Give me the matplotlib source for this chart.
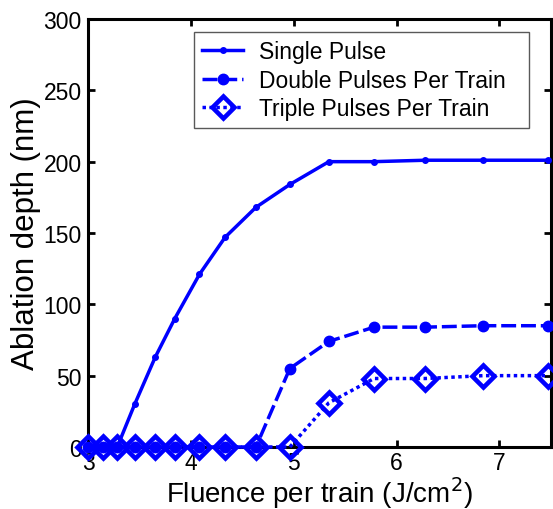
import matplotlib
matplotlib.use('Agg')
from matplotlib import pyplot as plt

# data
fluence = [3.0, 3.14, 3.28, 3.45, 3.65, 3.84, 4.08, 4.33, 4.63, 4.96,
           5.34, 5.78, 6.28, 6.84, 7.47]
single = [0, 0, 0, 30, 63, 90, 121, 147, 168, 184, 200, 200, 201, 201, 201]
double = [0, 0, 0, 0, 0, 0, 0, 0, 0, 55, 74, 84, 84, 85, 85]
triple = [0, 0, 0, 0, 0, 0, 0, 0, 0, 0, 31, 48, 48, 50, 50]

labels = ['Single Pulse', 'Double Pulses Per Train', 'Triple Pulses Per Train']
xticks = [3, 4, 5, 6, 7]
yticks = [0, 50, 100, 150, 200, 250, 300]

plt.rcParams['font.family'] = ['Liberation Sans', 'DejaVu Sans']
blue = (0, 0, 1)

fig = plt.figure(figsize=(5.53, 5.10), dpi=100)
ax = fig.add_axes([0.16, 0.1216, 0.836, 0.8392])

ax.plot(fluence, single, color=blue, lw=2.5, marker='.', ms=8,
        label=labels[0], clip_on=False, zorder=3)
ax.plot(fluence, double, color=blue, lw=2.5, dashes=(4.3, 1.4), marker='o', ms=7.5,
        label=labels[1], clip_on=False, zorder=4)
ax.plot(fluence, triple, color=blue, lw=2.5, dashes=(1, 1), marker='D', ms=11,
        mfc='none', mec=blue, mew=3.3, label=labels[2], clip_on=False, zorder=5)

ax.set_xlim(3, 7.5)
ax.set_ylim(0, 300)
ax.set_xticks(xticks)
ax.set_yticks(yticks)
ax.tick_params(direction='in', length=5, width=2, labelsize=16.5, pad=5,
               top=True, right=True)
ax.tick_params(axis='x', pad=3)
for s in ax.spines.values():
    s.set_linewidth(2.2)

ax.set_xlabel('Fluence per train (J/cm$^2$)', fontsize=20, labelpad=0)
ax.set_ylabel('Ablation depth (nm)', fontsize=22.5, labelpad=2)

leg = ax.legend(loc='upper left', bbox_to_anchor=(0.228, 0.755, 0.724, 0.215),
                mode='expand', borderaxespad=0, fontsize=16.5,
                handlelength=1.8, handletextpad=0.7, labelspacing=0.25,
                borderpad=0.35, fancybox=False, framealpha=1, numpoints=1)
leg.get_frame().set_edgecolor('0.35')
leg.get_frame().set_linewidth(1)

fig.savefig('out.png', dpi=100)
